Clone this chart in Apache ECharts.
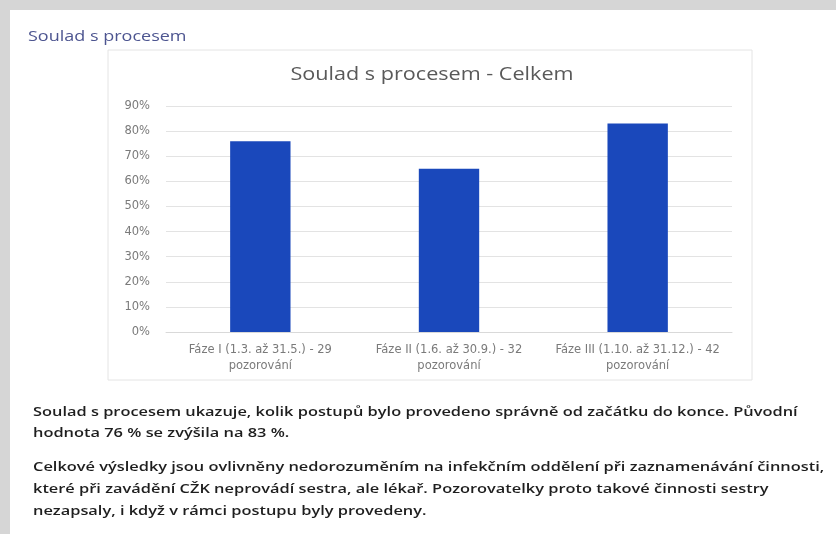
<!DOCTYPE html>
<html>
<head>
<meta charset="utf-8">
<script src="https://cdn.jsdelivr.net/npm/echarts@6/dist/echarts.min.js"></script>
<style>
html,body{margin:0;padding:0;background:#d6d6d6;}
#c{width:836px;height:534px;}
</style>
</head>
<body>
<div id="c"></div>
<script>
const pageHeading = "Soulad s procesem";
const chartTitle = "Soulad s procesem - Celkem";
const categories = [
  "Fáze I (1.3. až 31.5.) - 29\npozorování",
  "Fáze II (1.6. až 30.9.) - 32\npozorování",
  "Fáze III (1.10. až 31.12.) - 42\npozorování"
];
const values = [76, 65, 83];
const yTicks = [0, 10, 20, 30, 40, 50, 60, 70, 80, 90];
const paragraph1 = [
  "Soulad s procesem ukazuje, kolik postupů bylo provedeno správně od začátku do konce. Původní",
  "hodnota 76 % se zvýšila na 83 %."
];
const paragraph2 = [
  "Celkové výsledky jsou ovlivněny nedorozuměním na infekčním oddělení při zaznamenávání činnosti,",
  "které při zavádění CŽK neprovádí sestra, ale lékař. Pozorovatelky proto takové činnosti sestry",
  "nezapsaly, i když v rámci postupu byly provedeny."
];

const chart = echarts.init(document.getElementById('c'), null, {renderer:'canvas'});
const FONT = "'Open Sans', 'DejaVu Sans', sans-serif";
const WIDE = "'DejaVu Sans', sans-serif";
const textEls = [];
function addLines(lines, y0, lh) {
  lines.forEach((t, i) => {
    textEls.push({
      type: 'text', x: 33, y: y0 + i * lh, scaleX: 1.26, z: 10,
      style: { text: t, fontFamily: FONT, fontSize: 13, fontWeight: 600, fill: '#1e1e1e',
               textAlign: 'left', textVerticalAlign: 'middle' }
    });
  });
}
addLines(paragraph1, 412, 21.5);
addLines(paragraph2, 467, 22);

chart.setOption({
  backgroundColor: '#d6d6d6',
  animation: false,
  grid: { left: 166, right: 104, top: 106, bottom: 202, containLabel: false },
  xAxis: {
    type: 'category', data: categories,
    axisTick: { show: false },
    axisLine: { lineStyle: { color: '#d9d9d9' } },
    axisLabel: { fontFamily: WIDE, fontSize: 11.5, color: '#7a7a7a', lineHeight: 16, margin: 10, interval: 0 }
  },
  yAxis: {
    type: 'value', min: 0, max: 90, interval: 10,
    axisLabel: { formatter: v => yTicks.includes(v) ? v + '%' : '', fontFamily: WIDE, fontSize: 11.5, color: '#7a7a7a', margin: 16 },
    splitLine: { lineStyle: { color: '#e3e3e3' } },
    axisLine: { show: false }, axisTick: { show: false }
  },
  series: [{
    type: 'bar', data: values, barWidth: '32%',
    itemStyle: { color: '#1a48bb' }
  }],
  graphic: [
    { type: 'rect', shape: { x: 10, y: 10, width: 826, height: 524 }, style: { fill: '#ffffff' }, z: -10 },
    { type: 'rect', shape: { x: 108, y: 50, width: 644, height: 330 }, style: { fill: 'none', stroke: '#e4e4e4', lineWidth: 1 }, z: -5 },
    { type: 'text', x: 28, y: 37, scaleX: 1.2, z: 10,
      style: { text: pageHeading, fontFamily: FONT, fontSize: 15, fill: '#4d5590', textAlign: 'left', textVerticalAlign: 'middle' } },
    { type: 'text', x: 432, y: 75, scaleX: 1.2, z: 10,
      style: { text: chartTitle, fontFamily: FONT, fontSize: 18, fill: '#595959', textAlign: 'center', textVerticalAlign: 'middle' } }
  ].concat(textEls)
});
</script>
</body>
</html>
